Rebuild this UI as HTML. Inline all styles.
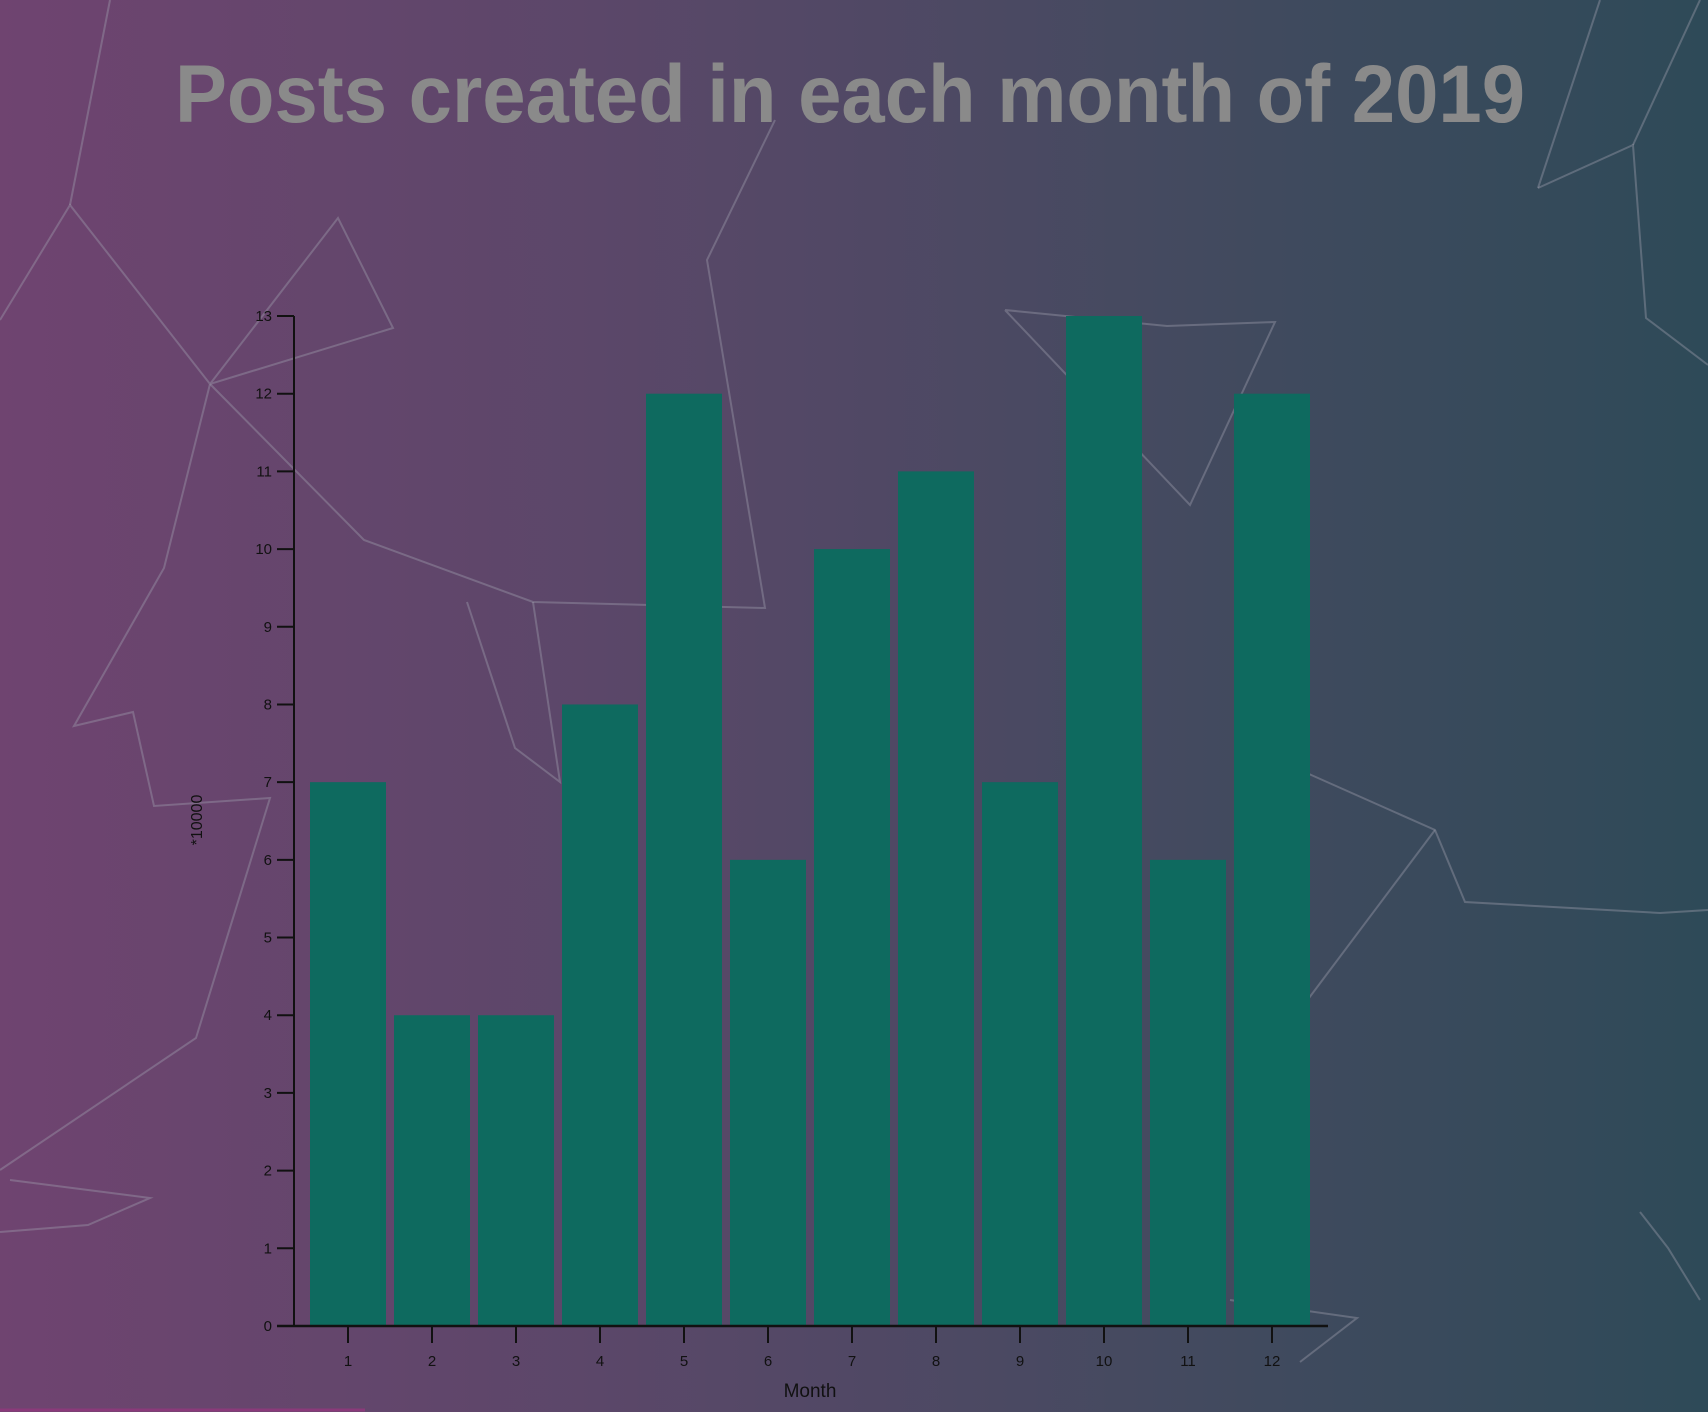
<!DOCTYPE html>
<html><head><meta charset="utf-8"><style>
html,body{margin:0;padding:0;width:1708px;height:1412px;overflow:hidden}
body{background:linear-gradient(to right,#6f4470 0%,#5b4769 35%,#434a5f 70%,#2e4a58 100%);font-family:"Liberation Sans",sans-serif}
svg{position:absolute;left:0;top:0}
</style></head><body>
<svg width="1708" height="1412">
<g stroke="#a0a0ae" stroke-opacity="0.4" stroke-width="2" fill="none">
<polyline points="0,320 70,205 210,384 393,328 338,218 210,384 164,568 74,726 133,712 154,806 270,798 196,1038 0,1170"/>
<polyline points="70,205 110,0"/>
<polyline points="210,384 364,540 533,602 765,608 707,260 775,120"/>
<polyline points="467,602 515,748 560,782 533,602"/>
<polyline points="1005,310 1167,326 1275,322 1190,505 1005,310"/>
<polyline points="1538,188 1633,145 1646,318 1708,365"/>
<polyline points="1538,188 1600,0"/>
<polyline points="1633,145 1700,0"/>
<polyline points="1300,770 1435,830 1465,902 1660,913 1708,910"/>
<polyline points="1300,1010 1435,830"/>
<polyline points="10,1180 150,1198 88,1225 0,1232"/>
<polyline points="1640,1212 1668,1248 1700,1300"/>
<polyline points="1230,1300 1357,1318 1300,1362"/>
</g>
<text x="850" y="122" text-anchor="middle" font-size="82" font-weight="bold" fill="#8a8a8a" textLength="1350" lengthAdjust="spacingAndGlyphs">Posts created in each month of 2019</text>
<g id="bars"></g>
<g id="axes" font-size="15" fill="#111"></g>
<text transform="translate(202,820) rotate(-90)" text-anchor="middle" font-size="16" fill="#111">*10000</text>
<text x="810" y="1397" text-anchor="middle" font-size="19" fill="#111">Month</text>
<line x1="0" y1="1410" x2="365" y2="1410" stroke="#8a3a7a" stroke-width="3"/>
</svg>
<script>
const months=["1","2","3","4","5","6","7","8","9","10","11","12"];
const posts=[7,4,4,8,12,6,10,11,7,13,6,12];
const yTicks=[0,1,2,3,4,5,6,7,8,9,10,11,12,13];
const NS="http://www.w3.org/2000/svg";
const x0=306,step=84,barW=76,yBase=1326,unit=(1326-316)/13;
const xs=i=>x0+i*step+(step-barW)/2;
const ys=v=>yBase-v*unit;
const bars=document.getElementById('bars'),axes=document.getElementById('axes');
function mk(t,a,p){const e=document.createElementNS(NS,t);for(const k in a)e.setAttribute(k,a[k]);p.appendChild(e);return e;}
posts.forEach((v,i)=>{
 const r=mk('rect',{x:xs(i),y:ys(v),width:barW,height:yBase-ys(v),fill:'#0e6a5f'},bars);
 
 
});
const ya=mk('line',{x1:294,y1:316,x2:294,y2:yBase,stroke:'#111','stroke-width':2},axes);


const xa=mk('line',{x1:277,y1:yBase,x2:1328,y2:yBase,stroke:'#111','stroke-width':2.5},axes);


yTicks.forEach(t=>{
 const y=ys(t);
 const l=mk('line',{x1:277,y1:y,x2:294,y2:y,stroke:'#111','stroke-width':2},axes);
 
 
 const tx=mk('text',{x:272,y:y+5,'text-anchor':'end'},axes);tx.textContent=t;
 
 
});
months.forEach((m,i)=>{
 const x=xs(i)+barW/2;
 const l=mk('line',{x1:x,y1:yBase,x2:x,y2:yBase+17,stroke:'#111','stroke-width':2},axes);
 
 
 const tx=mk('text',{x:x,y:yBase+40,'text-anchor':'middle'},axes);tx.textContent=m;
 
 
});
</script>
</body></html>
